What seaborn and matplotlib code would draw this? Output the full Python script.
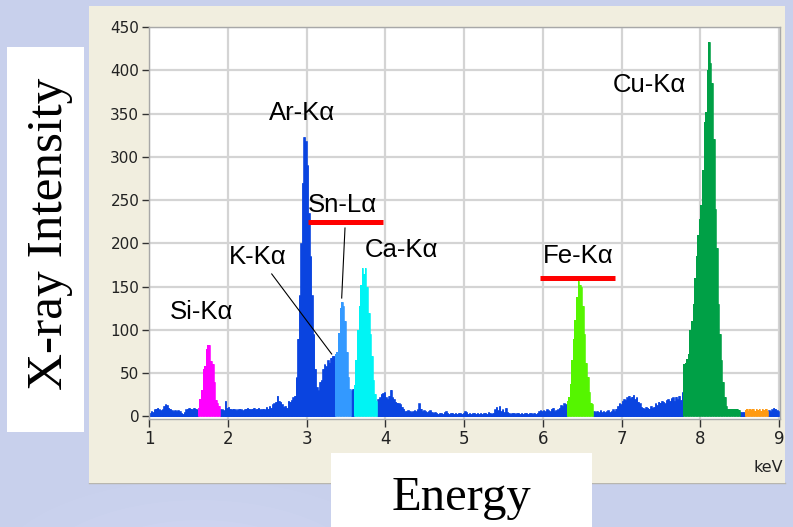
import numpy as np
import pandas as pd
import matplotlib
matplotlib.use("Agg")
import matplotlib.pyplot as plt
import seaborn as sns
from matplotlib.patches import Rectangle, Ellipse

# ---------------------------------------------------------------------------
# EDX spectrum: counts per 0.02 keV channel, starting at 1.00 keV
# ---------------------------------------------------------------------------
E_START = 1.00
E_STEP = 0.02

counts = [
    4, 6, 5, 8, 9, 10, 8, 7, 8, 12,                # 1.00-1.18
    14, 13, 10, 9, 7, 6, 7, 6, 7, 6,               # 1.20-1.38
    4, 3, 5, 8, 9, 10, 9, 8, 10, 9,                # 1.40-1.58
    8, 10, 20, 30, 55, 58, 78, 83, 82, 64,         # 1.60-1.78
    60, 40, 19, 16, 12, 8, 8, 7, 18, 10,           # 1.80-1.98
    11, 9, 8, 9, 8, 7, 8, 9, 8, 7,                 # 2.00-2.18
    8, 9, 10, 9, 8, 9, 10, 8, 9, 10,               # 2.20-2.38
    8, 8, 9, 8, 11, 9, 12, 10, 14, 15,             # 2.40-2.58
    17, 24, 18, 17, 14, 11, 12, 10, 18, 17,        # 2.60-2.78
    19, 22, 24, 45, 90, 140, 200, 270, 323, 318,   # 2.80-2.98
    290, 235, 185, 140, 95, 55, 34, 30, 40, 42,    # 3.00-3.18
    55, 60, 58, 65, 62, 68, 70, 70, 72, 74,        # 3.20-3.38
    96, 125, 132, 128, 110, 75, 45, 32, 30, 32,    # 3.40-3.58
    36, 65, 100, 128, 152, 171, 165, 171, 150, 120,  # 3.60-3.78
    95, 70, 42, 26, 18, 20, 22, 26, 27, 28,        # 3.80-3.98
    22, 20, 24, 31, 22, 20, 17, 16, 15, 14,        # 4.00-4.18
    11, 9, 6, 6, 7, 6, 5, 6, 7, 6,                 # 4.20-4.38
    8, 15, 9, 6, 7, 6, 5, 6, 7, 5,                 # 4.40-4.58
    4, 5, 4, 3, 4, 4, 3, 5, 6, 4,                  # 4.60-4.78
    3, 4, 4, 3, 4, 3, 4, 4, 3, 4,                  # 4.80-4.98
    6, 5, 3, 4, 3, 4, 4, 3, 4, 3,                  # 5.00-5.18
    4, 3, 4, 4, 3, 5, 4, 3, 4, 8,                  # 5.20-5.38
    11, 7, 12, 6, 8, 5, 10, 5, 4, 3,               # 5.40-5.58
    4, 4, 3, 4, 4, 3, 4, 3, 4, 4,                  # 5.60-5.78
    3, 4, 4, 3, 4, 3, 4, 6, 7, 6,                  # 5.80-5.98
    7, 6, 8, 7, 6, 9, 10, 6, 7, 8,                 # 6.00-6.18
    10, 13, 12, 15, 14, 18, 22, 38, 65, 90,        # 6.20-6.38
    111, 138, 157, 152, 150, 128, 95, 62, 45, 28,  # 6.40-6.58
    16, 14, 6, 5, 6, 5, 7, 5, 6, 5,                # 6.60-6.78
    6, 7, 5, 6, 8, 6, 9, 12, 15, 14,               # 6.80-6.98
    18, 20, 19, 22, 24, 21, 23, 25, 20, 22,        # 7.00-7.18
    17, 15, 11, 10, 9, 11, 10, 9, 12, 10,          # 7.20-7.38
    11, 15, 13, 17, 16, 18, 17, 15, 19, 20,        # 7.40-7.58
    18, 21, 22, 18, 23, 20, 24, 19, 28, 61,        # 7.60-7.78
    62, 66, 72, 100, 110, 130, 160, 185, 210, 228,   # 7.80-7.98
    244, 285, 340, 352, 400, 433, 408, 385, 320, 240,  # 8.00-8.18
    195, 130, 95, 65, 40, 22, 12, 9, 8, 8,         # 8.20-8.38
    8, 9, 8, 8, 7, 5, 5, 5, 7, 8,                  # 8.40-8.58
    6, 9, 7, 8, 6, 9, 7, 8, 6, 8,                  # 8.60-8.78
    7, 9, 6, 7, 6, 8, 10, 9, 7, 6,                 # 8.80-8.98
]

# Characteristic-line windows (keV) highlighted in their own colour
line_names = ["Si-Kα", "Sn-Lα", "Ca-Kα", "Fe-Kα", "Cu-Kα", "Zn-Kα"]
line_lo = [1.62, 3.36, 3.60, 6.30, 7.78, 8.56]
line_hi = [1.90, 3.56, 3.90, 6.64, 8.50, 8.86]

# Axis ticks
x_ticks = [1, 2, 3, 4, 5, 6, 7, 8, 9]
y_ticks = [0, 50, 100, 150, 200, 250, 300, 350, 400, 450]

# ---------------------------------------------------------------------------
# Colours
# ---------------------------------------------------------------------------
palette = {
    "continuum": "#0a44e0",
    "Si-Kα": "#ff00ff",
    "Sn-Lα": "#3399ff",
    "Ca-Kα": "#00f4f4",
    "Fe-Kα": "#55f500",
    "Cu-Kα": "#00a046",
    "Zn-Kα": "#ff9a12",
}

# ---------------------------------------------------------------------------
# Tidy table for seaborn
# ---------------------------------------------------------------------------
n = len(counts)
edges = E_START + E_STEP * np.arange(n + 1)
centres = edges[:-1] + E_STEP / 2
line = np.full(n, "continuum", dtype=object)
for name, lo, hi in zip(line_names, line_lo, line_hi):
    line[(centres > lo) & (centres < hi)] = name
df = pd.DataFrame({"energy": centres, "counts": counts, "line": line})

plt.rcParams["font.family"] = ["DejaVu Sans"]

W, H = 793, 527
fig = plt.figure(figsize=(W / 100, H / 100), dpi=100, facecolor="#c8d0ec")


def fx(px):
    return px / W


def fy(py):
    return 1 - py / H


# soft glow at the lower left of the backdrop
for r, a in [(1.0, 0.12), (0.8, 0.15), (0.6, 0.18)]:
    fig.patches.append(Ellipse((fx(200), fy(580)), fx(420) * r, (200 / H) * r,
                               transform=fig.transFigure, color="#d8dcfa",
                               alpha=a, lw=0, zorder=0))

# beige window panel
fig.patches.append(Rectangle((fx(89), fy(483)), fx(696), 477 / H,
                             transform=fig.transFigure, facecolor="#f1eedf",
                             edgecolor="none", zorder=1))
fig.lines.append(plt.Line2D([fx(89), fx(785)], [fy(483), fy(483)],
                            transform=fig.transFigure, color="#b8b6ae",
                            lw=1, zorder=1))

# white label boxes
fig.patches.append(Rectangle((fx(7), fy(432)), fx(77), 385 / H,
                             transform=fig.transFigure, facecolor="white",
                             edgecolor="none", zorder=2))
fig.patches.append(Rectangle((fx(331), 0), fx(261), 74 / H,
                             transform=fig.transFigure, facecolor="white",
                             edgecolor="none", zorder=2))

ax = fig.add_axes([fx(149), fy(419), fx(631), 392 / H])
ax.set_zorder(4)
ax.set_facecolor("white")


def draw_layer(sub, bins, colour, z):
    # filled step outline plus solid bars so neighbouring channels join up
    sns.histplot(data=sub, x="energy", weights="counts", bins=list(bins),
                 element="step", fill=True, alpha=1, color=colour,
                 linewidth=0, ax=ax, zorder=z)
    sns.histplot(data=sub, x="energy", weights="counts", bins=list(bins),
                 element="bars", fill=True, alpha=1, color=colour,
                 edgecolor=colour, linewidth=0.4, ax=ax, zorder=z)


# continuum over the full range, then each emission-line window on top,
# binned only over its own channels
draw_layer(df[df["line"] == "continuum"], edges, palette["continuum"], 2)
for name, lo, hi in zip(line_names, line_lo, line_hi):
    win = edges[(edges > lo - E_STEP / 2) & (edges < hi + E_STEP / 2)]
    draw_layer(df[df["line"] == name], win, palette[name], 3)

# zero-count bars of the continuum would leave hairlines at the baseline
for p in ax.patches:
    if p.get_height() <= 0:
        p.set_visible(False)

ax.set_xlim(1, 9.01)
ax.set_ylim(-3, 450)
ax.set_xticks(x_ticks)
ax.set_yticks(y_ticks)
ax.set_xlabel("")
ax.set_ylabel("")
ax.set_axisbelow(True)
ax.grid(True, color="#d4d4d4", linewidth=1.6, zorder=0)
for s in ax.spines.values():
    s.set_color("#a8a8a8")
    s.set_linewidth(1)
ax.tick_params(axis="y", direction="out", length=5, width=1, color="#333333",
               pad=2, labelsize=11, labelcolor="#222222")
ax.tick_params(axis="x", direction="out", length=6, width=1, color="#333333",
               pad=2, labelsize=12, labelcolor="#222222")

# peak annotations: (label, x keV, baseline counts)
labels = [
    ("Ar-Kα", 2.942, 342.5),
    ("Cu-Kα", 7.347, 374.9),
    ("Sn-Lα", 3.450, 236.2),
    ("K-Kα", 2.384, 176.1),
    ("Ca-Kα", 4.211, 184.2),
    ("Si-Kα", 1.673, 112.6),
    ("Fe-Kα", 6.446, 177.3),
]
for txt, x, y in labels:
    ax.text(x, y, txt, ha="center", va="baseline", fontsize=18.5,
            family=["Liberation Sans", "DejaVu Sans"], color="black",
            zorder=6)

# red underline bars
for x0, x1, y in [(3.018, 3.970, 225.2), (5.963, 6.915, 160.5)]:
    ax.plot([x0, x1], [y, y], color="#ff0000", lw=3.6,
            solid_capstyle="butt", zorder=5)

# leader lines
ax.plot([3.488, 3.446], [217.7, 136.8], color="black", lw=0.8, zorder=5)
ax.plot([2.558, 3.319], [164.6, 72.1], color="black", lw=0.8, zorder=5)

fig.text(fx(783), fy(468), "keV", ha="right", va="center", fontsize=11.5,
         color="#222222")

fig.text(fx(62), fy(234), "X-ray Intensity", rotation=90,
         rotation_mode="anchor", ha="center", va="baseline", fontsize=37,
         family=["Liberation Serif", "DejaVu Serif"], color="black", zorder=3)
fig.text(fx(461), fy(510), "Energy", ha="center", va="baseline", fontsize=35,
         family=["Liberation Serif", "DejaVu Serif"], color="black", zorder=3)

fig.savefig("out.png", dpi=100, facecolor=fig.get_facecolor())
